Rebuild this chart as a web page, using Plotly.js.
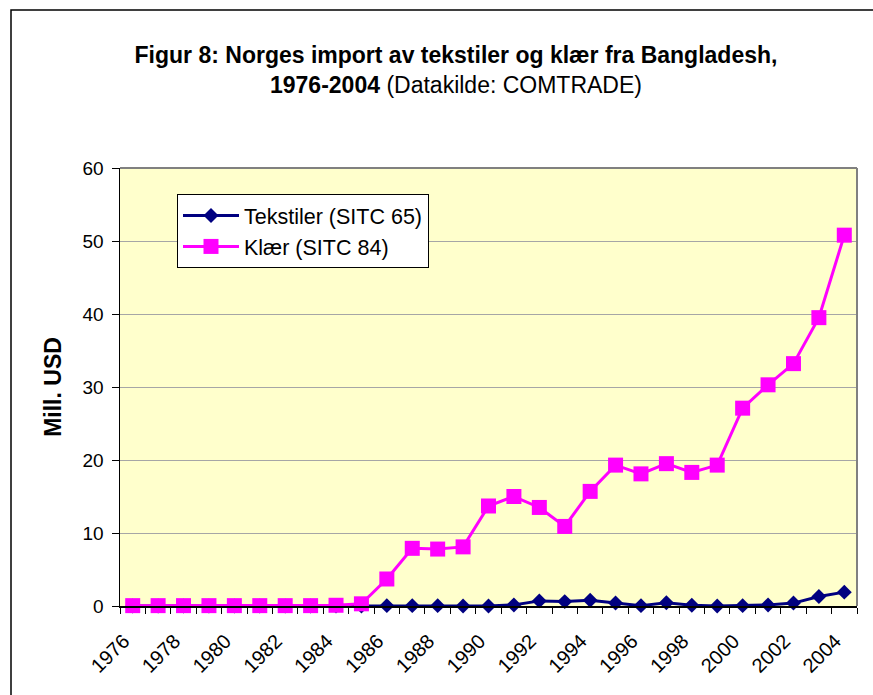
<!DOCTYPE html>
<html>
<head>
<meta charset="utf-8">
<script src="https://cdn.plot.ly/plotly-3.0.1.min.js"></script>
<style>
html,body{margin:0;padding:0;background:#fff;}
#chart{width:873px;height:695px;}
</style>
</head>
<body>
<div id="chart"></div>
<script>
var years = [1976,1977,1978,1979,1980,1981,1982,1983,1984,1985,1986,1987,1988,1989,1990,1991,1992,1993,1994,1995,1996,1997,1998,1999,2000,2001,2002,2003,2004];
var tekstiler = [0,0,0,0,0,0,0,0,0,0,0.05,0.05,0.05,0,0,0.15,0.7,0.6,0.8,0.4,0.05,0.45,0.1,0,0.05,0.15,0.4,1.3,1.9];
var klaer = [0.05,0.05,0.05,0.05,0.05,0.05,0.05,0.05,0.1,0.3,3.7,7.9,7.8,8.1,13.7,15.0,13.5,10.9,15.7,19.3,18.1,19.5,18.3,19.3,27.1,30.3,33.2,39.5,50.8];
var xTickVals = [1976,1978,1980,1982,1984,1986,1988,1990,1992,1994,1996,1998,2000,2002,2004];
var xTickText = ['1976','1978','1980','1982','1984','1986','1988','1990','1992','1994','1996','1998','2000','2002','2004'];
var yTickVals = [0,10,20,30,40,50,60];

var FONT = 'Arial, "Liberation Sans", sans-serif';

var traces = [
  {
    x: years, y: tekstiler, name: 'Tekstiler (SITC 65)', type: 'scatter', mode: 'lines+markers',
    line: {color: '#000080', width: 3},
    marker: {symbol: 'diamond', size: 11.5, color: '#000080'},
    cliponaxis: false
  },
  {
    x: years, y: klaer, name: 'Klær (SITC 84)', type: 'scatter', mode: 'lines+markers',
    line: {color: '#FF00FF', width: 3},
    marker: {symbol: 'square', size: 15, color: '#FF00FF'},
    cliponaxis: false
  }
];

var layout = {
  width: 873, height: 695,
  margin: {l: 120, r: 16, t: 168, b: 89, pad: 0},
  paper_bgcolor: '#FFFFFF',
  plot_bgcolor: '#FFFFCC',
  font: {family: FONT, color: '#000000', size: 18},
  title: {
    text: '<b>Figur 8: Norges import av tekstiler og klær fra Bangladesh,</b><br><b>1976-2004</b> (Datakilde: COMTRADE)',
    font: {family: FONT, size: 23, color: '#000000'},
    x: 456/873, xref: 'container', xanchor: 'center',
    y: 1 - 63/695, yref: 'container', yanchor: 'top'
  },
  showlegend: true,
  legend: {
    x: (177-120)/737, y: 1 - (194-168)/438, xanchor: 'left', yanchor: 'top',
    bgcolor: '#FFFFFF', bordercolor: '#000000', borderwidth: 1,
    font: {family: FONT, size: 21.5, color: '#000000'},
    itemwidth: 56, tracegroupgap: 0
  },
  xaxis: {
    type: 'linear',
    range: [1975.5, 2004.5],
    tickmode: 'array', tickvals: xTickVals, ticktext: xTickText,
    tickangle: -45,
    ticks: '', ticklen: 0,
    minor: {tick0: 1975.5, dtick: 1, ticks: 'outside', ticklen: 6, tickcolor: '#000000', tickwidth: 1, showgrid: false},
    showgrid: false, zeroline: false,
    showline: true, linecolor: '#000000', linewidth: 1.5,
    tickfont: {family: FONT, size: 20, color: '#000000'},
    ticklabelstandoff: 14,
    ticklabelshift: -9,
    fixedrange: true
  },
  yaxis: {
    range: [0, 60],
    tickmode: 'array', tickvals: yTickVals,
    ticks: 'outside', ticklen: 7, tickcolor: '#000000', tickwidth: 1,
    showgrid: true, gridcolor: '#A6A6A6', gridwidth: 1,
    zeroline: false,
    showline: true, linecolor: '#000000', linewidth: 1.5,
    tickfont: {family: FONT, size: 19, color: '#000000'},
    ticklabelstandoff: 4,
    title: {text: '<b>Mill. USD</b>', font: {family: FONT, size: 23, color: '#000000'}, standoff: 14},
    fixedrange: true
  },
  shapes: [
    {type: 'line', xref: 'paper', yref: 'paper', x0: 0, x1: 1, y0: 1, y1: 1, line: {color: '#808080', width: 2}},
    {type: 'line', xref: 'paper', yref: 'paper', x0: 1, x1: 1, y0: 0, y1: 1, line: {color: '#808080', width: 2}},
    {type: 'rect', xref: 'paper', yref: 'paper', layer: 'below',
     x0: (11-120)/737, x1: (900-120)/737, y0: -0.4, y1: 1 + (168-10)/438,
     line: {color: '#000000', width: 1.5}, fillcolor: 'rgba(0,0,0,0)'}
  ]
};

Plotly.newPlot('chart', traces, layout, {displayModeBar: false, staticPlot: true});
</script>
</body>
</html>
